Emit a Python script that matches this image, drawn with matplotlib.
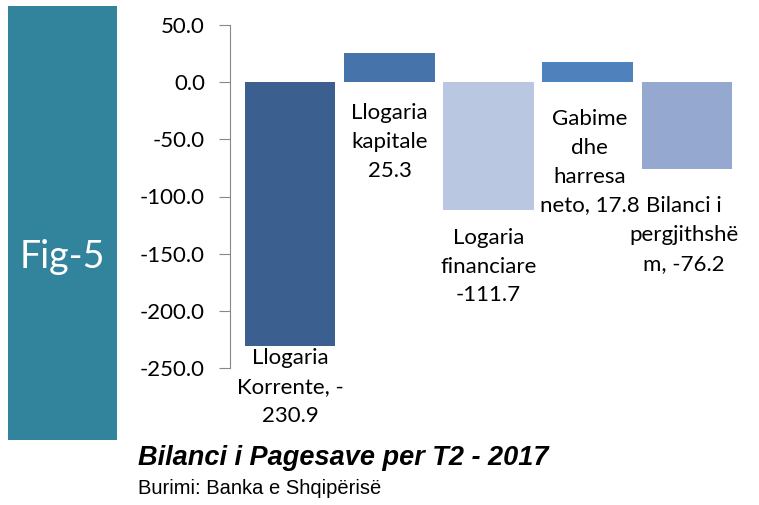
import numpy as np
import matplotlib.pyplot as plt
from matplotlib.patches import Rectangle

# data
categories = ['Llogaria\nKorrente, -\n230.9', 'Llogaria\nkapitale\n25.3',
              'Logaria\nfinanciare\n-111.7', 'Gabime\ndhe\nharresa\nneto, 17.8',
              'Bilanci i\npergjithshë\nm, -76.2']
values = [-230.9, 25.3, -111.7, 17.8, -76.2]
colors = ['#3B5F8E', '#4673AA', '#B9C7E1', '#4F81BD', '#95A9D0']
yticks = [50, 0, -50, -100, -150, -200, -250]

W, H = 759, 505
fig = plt.figure(figsize=(W / 100, H / 100), dpi=100)

# teal side box
fig.patches.append(Rectangle((8 / W, 1 - 440 / H), 109 / W, 434 / H,
                             transform=fig.transFigure, facecolor='#31849B',
                             edgecolor='none'))
fig.text(62 / W, 1 - 257 / H, 'Fig-5', color='white', fontsize=27,
         family='Lato', ha='center', va='center')

ax = fig.add_axes([230 / W, 1 - 368 / H, 520 / W, 343 / H])
x = np.arange(len(values))
ax.bar(x, values, width=0.91, color=colors)
ax.set_xlim(-0.61, 4.64)
ax.set_ylim(-250, 50)
ax.set_yticks(yticks)
ax.set_yticklabels(['%.1f' % v for v in yticks], fontsize=16, family='Lato')
ax.tick_params(axis='y', direction='out', length=8, color='#888888', pad=10)
ax.set_xticks([])
for s in ['top', 'right', 'bottom']:
    ax.spines[s].set_visible(False)
ax.spines['left'].set_color('#888888')

# data labels (offset in pixels below bar end or zero line)
offsets = [(0, -2), (0, -21), (0, -18), (2, -27), (-3, -27)]
for i, (lab, v) in enumerate(zip(categories, values)):
    base = min(v, 0)
    ax.annotate(lab, (x[i], base), xytext=offsets[i], textcoords='offset pixels',
                ha='center', va='top', fontsize=16, family='Lato',
                linespacing=1.55, color='black')

fig.text(138 / W, 1 - 458 / H, 'Bilanci i Pagesave per T2 - 2017', fontsize=19.5,
         family='Liberation Sans', style='italic', weight='bold', va='center')
fig.text(138 / W, 1 - 488 / H, 'Burimi: Banka e Shqipërisë', fontsize=14.5,
         family='Liberation Sans', va='center')

fig.savefig('out.png', dpi=100)
